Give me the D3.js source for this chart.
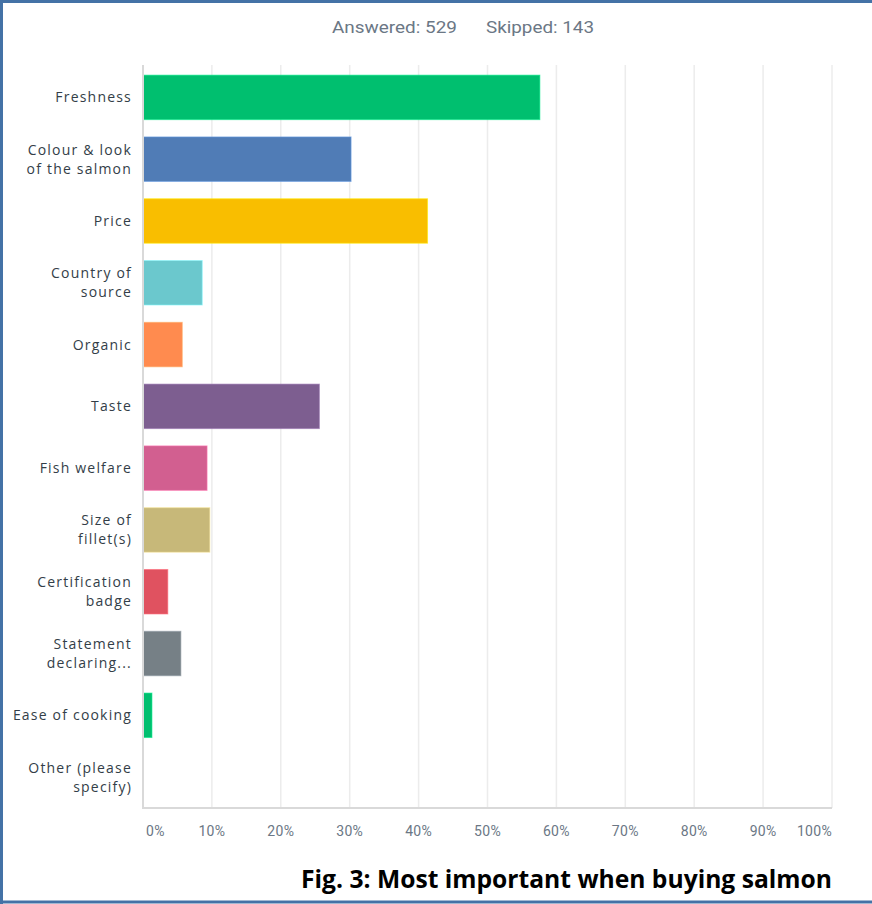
<!DOCTYPE html>
<html>
<head>
<meta charset="utf-8">
<script src="https://cdn.jsdelivr.net/npm/d3@7"></script>
<style>
  html, body { margin: 0; padding: 0; background: #fff; }
  svg { display: block; }
</style>
</head>
<body>
<svg id="chart" width="872" height="904"></svg>
<script>
// Survey question: most important factor when buying salmon
const categories = [
  ["Freshness"],
  ["Colour & look", "of the salmon"],
  ["Price"],
  ["Country of", "source"],
  ["Organic"],
  ["Taste"],
  ["Fish welfare"],
  ["Size of", "fillet(s)"],
  ["Certification", "badge"],
  ["Statement", "declaring..."],
  ["Ease of cooking"],
  ["Other (please", "specify)"]
];
const percents = [57.6, 30.2, 41.3, 8.6, 5.7, 25.6, 9.3, 9.7, 3.6, 5.5, 1.3, 0];
const barColors = ["#00bf6f", "#507cb6", "#f9be00", "#6bc8cd", "#ff8b4f", "#7d5e90",
                   "#d25f90", "#c7b879", "#e05260", "#768086", "#00bf6f", "#999999"];
const tickValues = [0, 10, 20, 30, 40, 50, 60, 70, 80, 90, 100];
const answered = 529, skipped = 143;
const caption = "Fig. 3: Most important when buying salmon";

const svg = d3.select("#chart");
const W = 872, H = 904;

const x = d3.scaleLinear().domain([0, 100]).range([143, 832]);
const y = d3.scaleBand()
  .domain(d3.range(categories.length))
  .range([66.5, 808])
  .paddingInner(0.28)
  .paddingOuter(0.14);

// header counts
const header = svg.append("g")
  .attr("font-family", "'Liberation Sans Narrow', 'Roboto', sans-serif")
  .attr("font-size", 17)
  .attr("fill", "#6b7785");
header.append("text").attr("x", 332).attr("y", 33)
  .attr("textLength", 125).attr("lengthAdjust", "spacingAndGlyphs")
  .text(`Answered: ${answered}`);
header.append("text").attr("x", 486).attr("y", 33)
  .attr("textLength", 108).attr("lengthAdjust", "spacingAndGlyphs")
  .text(`Skipped: ${skipped}`);

// vertical gridlines
svg.append("g")
  .selectAll("line")
  .data(tickValues.slice(1))
  .join("line")
  .attr("x1", d => x(d)).attr("x2", d => x(d))
  .attr("y1", 65).attr("y2", 808)
  .attr("stroke", "#ececec")
  .attr("stroke-width", 1.5);

// bars
svg.append("g")
  .selectAll("rect")
  .data(percents)
  .join("rect")
  .attr("x", x(0))
  .attr("y", (d, i) => y(i))
  .attr("width", d => x(d) - x(0))
  .attr("height", y.bandwidth())
  .attr("fill", (d, i) => barColors[i])
  .attr("stroke", (d, i) => d3.color(barColors[i]).brighter(0.6))
  .attr("stroke-opacity", 0.6)
  .attr("stroke-width", 1)
  .attr("display", d => d > 0 ? null : "none");

// axis lines
svg.append("line")
  .attr("x1", x(0)).attr("x2", x(0))
  .attr("y1", 65).attr("y2", 808)
  .attr("stroke", "#d9d9d9").attr("stroke-width", 2);
svg.append("line")
  .attr("x1", x(0) - 1).attr("x2", x(100))
  .attr("y1", 808).attr("y2", 808)
  .attr("stroke", "#d9d9d9").attr("stroke-width", 2);

// category labels
const labels = svg.append("g")
  .attr("font-family", "'Open Sans', 'DejaVu Sans', sans-serif")
  .attr("font-size", 14)
  .attr("letter-spacing", 1.2)
  .attr("fill", "#333e48")
  .attr("text-anchor", "end");
categories.forEach((lines, i) => {
  const cy = y(i) + y.bandwidth() / 2;
  const lh = 19;
  const t = labels.append("text");
  lines.forEach((ln, k) => {
    t.append("tspan")
      .attr("x", 132)
      .attr("y", cy + (k - (lines.length - 1) / 2) * lh + 5)
      .text(ln);
  });
});

// x tick labels
svg.append("g")
  .attr("font-family", "Roboto, 'Liberation Sans', sans-serif")
  .attr("font-size", 14)
  .attr("letter-spacing", 0.3)
  .attr("fill", "#6b7785")
  .selectAll("text")
  .data(tickValues)
  .join("text")
  .attr("x", (d, i) => i === 0 ? x(d) + 3 : x(d))
  .attr("y", 836)
  .attr("text-anchor", (d, i) => i === 0 ? "start" : i === tickValues.length - 1 ? "end" : "middle")
  .text(d => d + "%");

// caption
svg.append("text")
  .attr("x", 832)
  .attr("y", 888)
  .attr("text-anchor", "end")
  .attr("font-family", "'Open Sans', 'Liberation Sans', sans-serif")
  .attr("font-weight", "bold")
  .attr("font-size", 25)
  .attr("fill", "#000")
  .attr("textLength", 531)
  .attr("lengthAdjust", "spacingAndGlyphs")
  .text(caption);

// frame
const frame = svg.append("g").attr("stroke", "#4472a6").attr("stroke-width", 3);
frame.append("line").attr("x1", 0).attr("x2", W).attr("y1", 1.5).attr("y2", 1.5);
frame.append("line").attr("x1", 1.5).attr("x2", 1.5).attr("y1", 0).attr("y2", H);
frame.append("line").attr("x1", 0).attr("x2", W).attr("y1", H - 2).attr("y2", H - 2);
</script>
</body>
</html>
